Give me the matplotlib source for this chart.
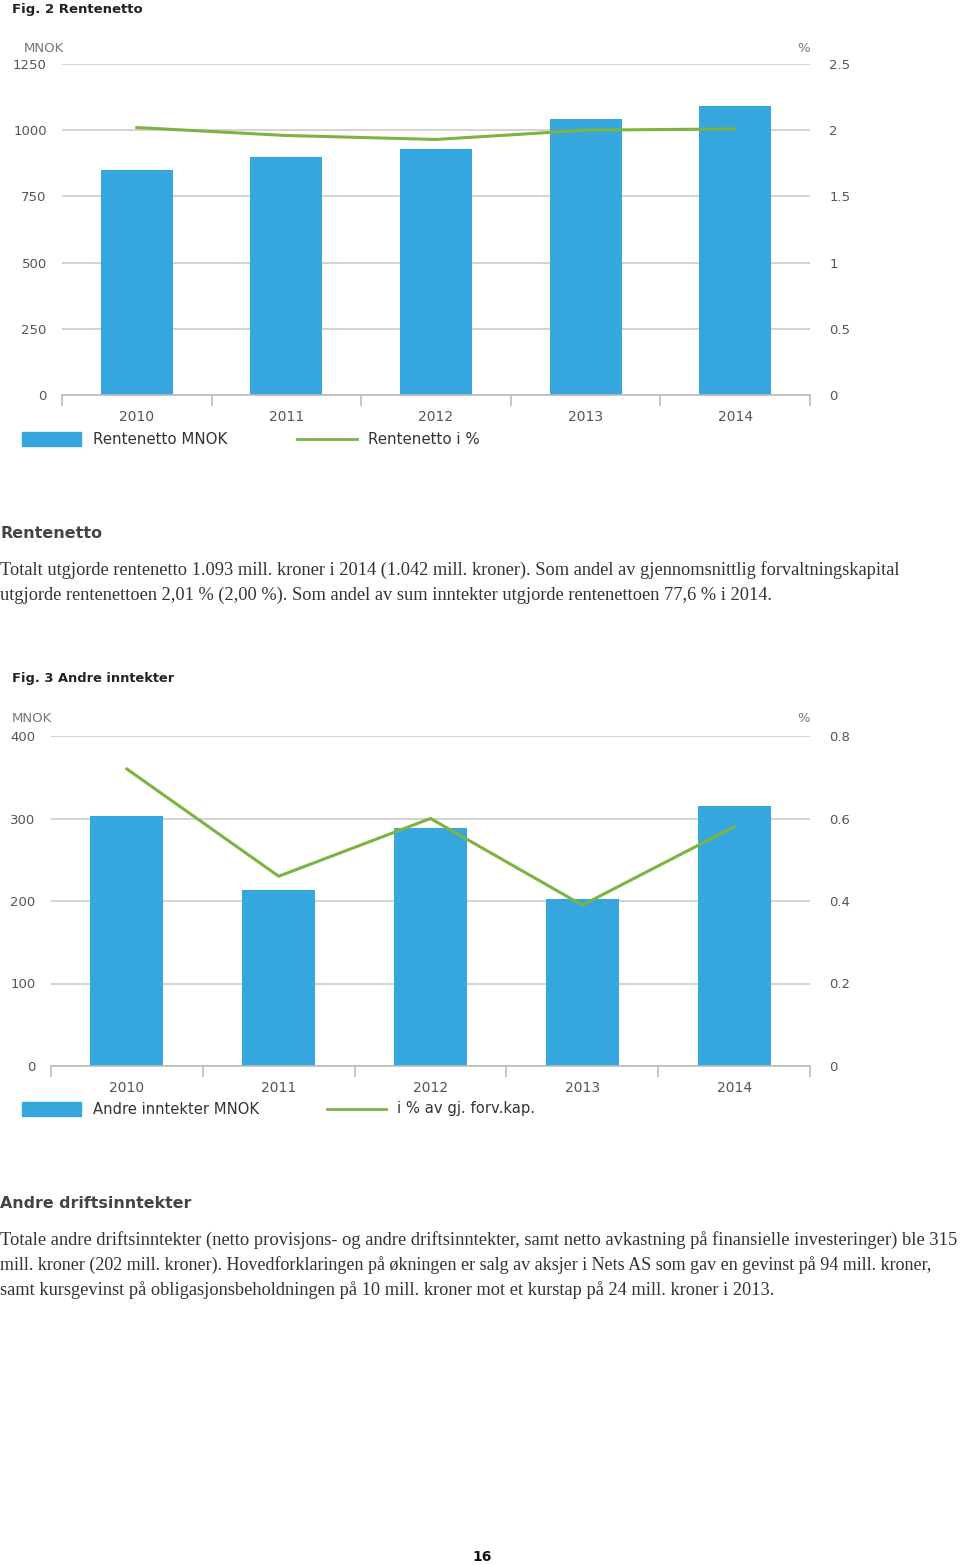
import numpy as np
import matplotlib.pyplot as plt

W, H = 960, 1565

years = ['2010', '2011', '2012', '2013', '2014']

# Fig. 2 Rentenetto
rente_mnok = [850, 898, 928, 1042, 1093]
rente_pct = [2.02, 1.96, 1.93, 2.00, 2.01]
rente_left_ticks = [0, 250, 500, 750, 1000, 1250]
rente_right_ticks = [0, 0.5, 1, 1.5, 2, 2.5]
rente_right_labels = ['0', '0.5', '1', '1.5', '2', '2.5']

# Fig. 3 Andre inntekter
andre_mnok = [303, 213, 288, 202, 315]
andre_pct = [0.72, 0.46, 0.60, 0.39, 0.58]
andre_left_ticks = [0, 100, 200, 300, 400]
andre_right_ticks = [0, 0.2, 0.4, 0.6, 0.8]
andre_right_labels = ['0', '0.2', '0.4', '0.6', '0.8']

BLUE = '#35a7de'
GREEN = '#7cb342'
GRID = '#cccccc'
TXT = '#555555'

text1 = ["Totalt utgjorde rentenetto 1.093 mill. kroner i 2014 (1.042 mill. kroner). Som andel av gjennomsnittlig forvaltningskapital",
         "utgjorde rentenettoen 2,01 % (2,00 %). Som andel av sum inntekter utgjorde rentenettoen 77,6 % i 2014."]
text2 = ["Totale andre driftsinntekter (netto provisjons- og andre driftsinntekter, samt netto avkastning på finansielle investeringer) ble 315",
         "mill. kroner (202 mill. kroner). Hovedforklaringen på økningen er salg av aksjer i Nets AS som gav en gevinst på 94 mill. kroner,",
         "samt kursgevinst på obligasjonsbeholdningen på 10 mill. kroner mot et kurstap på 24 mill. kroner i 2013."]


def rect(x0, y0, x1, y1):
    return [x0 / W, 1 - y1 / H, (x1 - x0) / W, (y1 - y0) / H]


def fy(y):
    return 1 - y / H


def combo(fig, box, bars, pct, lticks, rticks, rlabels, lpad):
    ax = fig.add_axes(rect(*box))
    x = np.arange(len(years))
    ax.bar(x, bars, width=0.48, color=BLUE, zorder=2)
    ax.set_xlim(-0.5, len(years) - 0.5)
    ax.set_ylim(0, lticks[-1])
    ax.set_yticks(lticks)
    ax.set_yticklabels([str(t) for t in lticks])
    ax.grid(axis='y', color=GRID, linewidth=1.2, zorder=0)
    for s in ['top', 'left', 'right']:
        ax.spines[s].set_visible(False)
    ax.spines['bottom'].set_color('#bbbbbb')
    ax.spines['bottom'].set_linewidth(1.2)
    ax.set_xticks(x)
    ax.set_xticklabels(years)
    ax.set_xticks(np.arange(-0.5, len(years)), minor=True)
    ax.tick_params(axis='x', which='major', length=0, pad=11, labelsize=10, labelcolor=TXT)
    ax.tick_params(axis='x', which='minor', length=8, color='#bbbbbb', width=1.2)
    ax.tick_params(axis='y', length=0, pad=lpad, labelsize=9.5, labelcolor=TXT)
    ax2 = ax.twinx()
    ax2.plot(x, pct, color=GREEN, linewidth=2.2, zorder=3)
    ax2.set_ylim(0, rticks[-1])
    ax2.set_yticks(rticks)
    ax2.set_yticklabels(rlabels)
    ax2.tick_params(axis='y', length=0, pad=14, labelsize=9.5, labelcolor=TXT)
    for s in ax2.spines.values():
        s.set_visible(False)
    return ax


def fit_text(fig, x, y, s, width, size0=12.5, **kw):
    t = fig.text(x / W, fy(y), s, fontsize=size0, va='center', ha='left', **kw)
    r = fig.canvas.get_renderer()
    w = t.get_window_extent(r).width
    t.set_fontsize(size0 * width / w)
    return t


fig = plt.figure(figsize=(W / 100, H / 100), dpi=100)

# --- Fig. 2 ---
fig.text(12 / W, fy(9), 'Fig. 2 Rentenetto', fontsize=9.5, fontweight='bold', color='#222222', va='center')
fig.text(24 / W, fy(48), 'MNOK', fontsize=9.5, color='#777777', va='center')
fig.text(797 / W, fy(48), '%', fontsize=9.5, color='#777777', va='center')
combo(fig, (62, 64, 810, 395), rente_mnok, rente_pct, rente_left_ticks,
      rente_right_ticks, rente_right_labels, 11)
fig.patches.append(plt.Rectangle((22 / W, fy(446)), 59 / W, 14 / H, color=BLUE, transform=fig.transFigure))
fig.text(93 / W, fy(439), 'Rentenetto MNOK', fontsize=10.8, color='#333333', va='center')
fig.lines.append(plt.Line2D([297 / W, 357 / W], [fy(439), fy(439)], color=GREEN, linewidth=2, transform=fig.transFigure))
fig.text(368 / W, fy(439), 'Rentenetto i %', fontsize=10.8, color='#333333', va='center')

fig.text(0, fy(534), 'Rentenetto', fontsize=11.5, fontweight='bold', color='#444444', va='center')
fit_text(fig, 0, 570, text1[0], 900, family='Liberation Serif', color='#333333')
fit_text(fig, 0, 595, text1[1], 772, family='Liberation Serif', color='#333333')

# --- Fig. 3 ---
fig.text(12 / W, fy(679), 'Fig. 3 Andre inntekter', fontsize=9.4, fontweight='bold', color='#222222', va='center')
fig.text(12 / W, fy(718), 'MNOK', fontsize=9.5, color='#777777', va='center')
fig.text(797 / W, fy(718), '%', fontsize=9.5, color='#777777', va='center')
combo(fig, (51, 736, 810, 1066), andre_mnok, andre_pct, andre_left_ticks,
      andre_right_ticks, andre_right_labels, 11)
fig.patches.append(plt.Rectangle((22 / W, fy(1116)), 59 / W, 14 / H, color=BLUE, transform=fig.transFigure))
fig.text(93 / W, fy(1109), 'Andre inntekter MNOK', fontsize=10.6, color='#333333', va='center')
fig.lines.append(plt.Line2D([327 / W, 386 / W], [fy(1109), fy(1109)], color=GREEN, linewidth=2, transform=fig.transFigure))
fig.text(397 / W, fy(1109), 'i % av gj. forv.kap.', fontsize=10.6, color='#333333', va='center')

fig.text(0, fy(1204), 'Andre driftsinntekter', fontsize=11.4, fontweight='bold', color='#444444', va='center')
fit_text(fig, 0, 1240, text2[0], 958, family='Liberation Serif', color='#333333')
fit_text(fig, 0, 1265, text2[1], 938, family='Liberation Serif', color='#333333')
fit_text(fig, 0, 1290, text2[2], 772, family='Liberation Serif', color='#333333')

fig.text(482 / W, fy(1557), '16', fontsize=10, fontweight='bold', color='#111111', ha='center', va='center')

fig.savefig('out.png', dpi=100)
